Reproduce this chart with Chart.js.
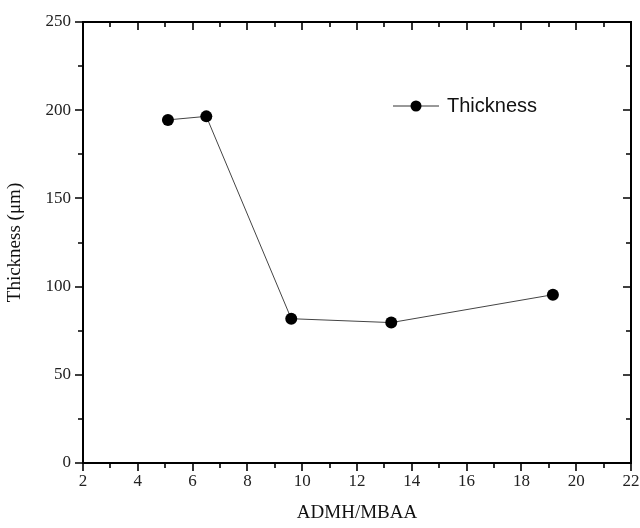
<!DOCTYPE html>
<html><head><meta charset="utf-8">
<script src="https://cdn.jsdelivr.net/npm/chart.js@4/dist/chart.umd.min.js"></script>
<style>html,body{margin:0;padding:0;background:#fff}#c{display:block}</style>
</head><body>
<canvas id="c" width="640" height="528"></canvas>
<script>
const ratio = [5.1, 6.5, 9.6, 13.25, 19.15];
const thickness = [194.5, 196.5, 81.8, 79.6, 95.4];
const seriesName = 'Thickness';
const xTitle = 'ADMH/MBAA';
const yTitle = 'Thickness (\u03bcm)';

const framePlugin = {
  id: 'frame',
  afterDatasetsDraw(chart) {
    const {ctx, chartArea: a, scales: {x, y}} = chart;
    ctx.save();
    ctx.strokeStyle = '#000';
    ctx.lineWidth = 2;
    ctx.strokeRect(a.left, a.top, a.right - a.left, a.bottom - a.top);
    ctx.lineWidth = 1.6;
    ctx.beginPath();
    for (let v = 2; v <= 22; v += 1) {
      const px = Math.round(x.getPixelForValue(v));
      const L = v % 2 === 0 ? 8 : 5;
      ctx.moveTo(px, a.bottom); ctx.lineTo(px, a.bottom + L);
      ctx.moveTo(px, a.top); ctx.lineTo(px, a.top + L);
    }
    for (let v = 0; v <= 250; v += 25) {
      const py = Math.round(y.getPixelForValue(v));
      const L = v % 50 === 0 ? 8 : 5;
      ctx.moveTo(a.left, py); ctx.lineTo(a.left - L, py);
      ctx.moveTo(a.right, py); ctx.lineTo(a.right - L, py);
    }
    ctx.stroke();
    // legend
    const lx = 393, ly = 106;
    ctx.strokeStyle = '#333'; ctx.lineWidth = 1;
    ctx.beginPath(); ctx.moveTo(lx, ly); ctx.lineTo(lx + 46, ly); ctx.stroke();
    ctx.fillStyle = '#000';
    ctx.beginPath(); ctx.arc(lx + 23, ly, 5.5, 0, Math.PI * 2); ctx.fill();
    ctx.font = '20px "Liberation Sans", Arial, sans-serif';
    ctx.fillStyle = '#111';
    ctx.textBaseline = 'middle';
    ctx.fillText(chart.data.datasets[0].label, lx + 54, ly);
    ctx.restore();
  }
};

new Chart(document.getElementById('c'), {
  type: 'line',
  data: {
    datasets: [{
      label: seriesName,
      data: ratio.map((v, i) => ({x: v, y: thickness[i]})),
      borderColor: '#444',
      borderWidth: 1,
      pointRadius: 6,
      pointBackgroundColor: '#000',
      pointBorderColor: '#000',
      pointBorderWidth: 0,
      tension: 0
    }]
  },
  options: {
    responsive: false,
    animation: false,
    layout: {padding: {top: 22, right: 9, left: 0, bottom: 0}},
    plugins: {legend: {display: false}, tooltip: {enabled: false}},
    scales: {
      x: {
        type: 'linear', min: 2, max: 22,
        grid: {display: false, drawTicks: false},
        border: {display: false},
        ticks: {stepSize: 2, padding: 8, color: '#222', font: {family: '"Liberation Serif", "Times New Roman", serif', size: 17}},
        title: {display: true, text: xTitle, color: '#111', padding: {top: 10}, font: {family: '"Liberation Serif", "Times New Roman", serif', size: 19}},
        afterFit(s) { s.height = 65; s.paddingLeft = 0; s.paddingRight = 0; }
      },
      y: {
        type: 'linear', min: 0, max: 250,
        grid: {display: false, drawTicks: false},
        border: {display: false},
        ticks: {stepSize: 50, padding: 12, color: '#222', font: {family: '"Liberation Serif", "Times New Roman", serif', size: 17}},
        title: {display: true, text: yTitle, color: '#111', padding: {bottom: 4}, font: {family: '"Liberation Serif", "Times New Roman", serif', size: 19}},
        afterFit(s) { s.width = 83; s.paddingTop = 0; s.paddingBottom = 0; }
      }
    }
  },
  plugins: [framePlugin]
});
</script>
</body></html>
